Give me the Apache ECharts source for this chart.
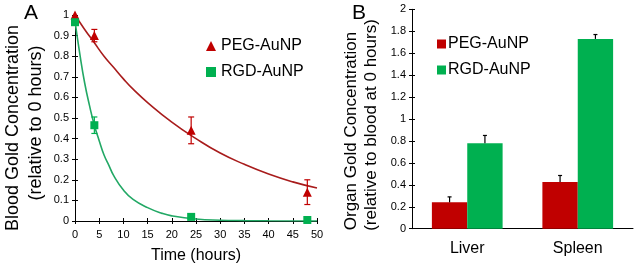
<!DOCTYPE html>
<html><head><meta charset="utf-8">
<script src="https://cdn.jsdelivr.net/npm/echarts@6/dist/echarts.min.js"></script>
<style>html,body{margin:0;padding:0;background:#fff}#c{width:636px;height:269px}</style>
</head><body><div id="c"></div>
<script>
// Panel A: blood concentration over time
const timePts = [0, 4, 24, 48];
const pegVals = [1.0, 0.90, 0.44, 0.14];
const pegErr = [0, 0.03, 0.065, 0.06];
const rgdVals = [0.965, 0.465, 0.02, 0.005];
const rgdErr = [0, 0.04, 0, 0];
// fitted curves
const pegFitT = [0, 2, 4, 6, 8, 10, 12, 15, 20, 25, 30, 35, 40, 45, 50];
const pegFitY = [1.0, 0.93, 0.865, 0.80, 0.745, 0.69, 0.64, 0.575, 0.48, 0.40, 0.33, 0.275, 0.228, 0.19, 0.16];
const rgdFitT = [0, 1, 2, 3, 4, 5, 6, 7, 8, 10, 12, 15, 18, 20, 25, 30, 35, 40, 50];
const rgdFitY = [0.97, 0.81, 0.67, 0.56, 0.465, 0.39, 0.32, 0.27, 0.22, 0.15, 0.105, 0.065, 0.037, 0.025, 0.01, 0.004, 0.002, 0.001, 0.0];
// Panel B: organ concentration
const organs = ['Liver', 'Spleen'];
const pegOrgan = [0.24, 0.425];
const pegOrganErr = [0.05, 0.06];
const rgdOrgan = [0.78, 1.73];
const rgdOrganErr = [0.07, 0.04];

const RED = '#C00000', GREEN = '#00B050', RED_LINE = '#A81C1C', GREEN_LINE = '#22A865';
const FONT = 'Liberation Sans, Arial, sans-serif';
const chart = echarts.init(document.getElementById('c'));

function errA(vals, errs, color) {
  return {
    type: 'custom', xAxisIndex: 0, yAxisIndex: 0, z: 3, silent: true,
    data: timePts.map((t, i) => [t, vals[i], errs[i]]),
    renderItem: (params, api) => {
      const e = api.value(2);
      if (!e) return null;
      const t = api.value(0), v = api.value(1);
      const top = api.coord([t, v + e]), bot = api.coord([t, v - e]);
      const w = 3;
      return { type: 'group', children: [
        { type: 'line', shape: { x1: top[0], y1: top[1], x2: bot[0], y2: bot[1] }, style: { stroke: color, lineWidth: 1.2 } },
        { type: 'line', shape: { x1: top[0] - w, y1: top[1], x2: top[0] + w, y2: top[1] }, style: { stroke: color, lineWidth: 1.2 } },
        { type: 'line', shape: { x1: bot[0] - w, y1: bot[1], x2: bot[0] + w, y2: bot[1] }, style: { stroke: color, lineWidth: 1.2 } }
      ]};
    }
  };
}
function errB(vals, errs, side) {
  return {
    type: 'custom', xAxisIndex: 2, yAxisIndex: 2, z: 5, silent: true,
    data: organs.map((o, i) => [i, vals[i], errs[i]]),
    renderItem: (params, api) => {
      const i = api.value(0), v = api.value(1), e = api.value(2);
      const band = api.size([1, 0])[0];
      const bw = band * 0.32;
      const base = api.coord([i, v]);
      const x = base[0] + side * bw / 2;
      const top = api.coord([i, v + e]);
      return { type: 'group', children: [
        { type: 'line', shape: { x1: x, y1: base[1], x2: x, y2: top[1] }, style: { stroke: '#000', lineWidth: 1.2 } },
        { type: 'line', shape: { x1: x - 2, y1: top[1], x2: x + 2, y2: top[1] }, style: { stroke: '#000', lineWidth: 1.2 } }
      ]};
    }
  };
}

const axisTxt = { color: '#000', fontFamily: FONT, fontSize: 11 };
const blk = { lineStyle: { color: '#000', width: 1 } };
function vtext(x, y, txt, size) {
  return { type: 'text', x: x, y: y, rotation: Math.PI / 2, silent: true,
    style: { text: txt, fill: '#000', font: size + 'px ' + FONT, textAlign: 'center', textVerticalAlign: 'middle' } };
}

chart.setOption({
  animation: false,
  textStyle: { fontFamily: FONT },
  title: [
    { text: 'A', left: 24, top: 3, padding: 0, textStyle: { fontSize: 21, fontWeight: 'normal', color: '#000', fontFamily: FONT } },
    { text: 'B', left: 352, top: 3, padding: 0, textStyle: { fontSize: 21, fontWeight: 'normal', color: '#000', fontFamily: FONT } }
  ],
  graphic: [
    vtext(13, 128, 'Blood Gold Concentration', 18),
    vtext(36, 123, '(relative to 0 hours)', 18),
    vtext(351, 131, 'Organ Gold Concentration', 17),
    vtext(371, 125, '(relative to blood at 0 hours)', 17)
  ],
  grid: [
    { left: 75, width: 242, top: 15, height: 209 },
    { left: 412, width: 221, top: 9.3, height: 219.4 }
  ],
  legend: [
    { orient: 'vertical', left: 201, top: 33, itemGap: 10, itemWidth: 10, itemHeight: 10,
      textStyle: { fontSize: 16, color: '#000', fontFamily: FONT },
      data: [{ name: 'PEG-AuNP', icon: 'triangle' }, { name: 'RGD-AuNP', icon: 'rect' }] },
    { orient: 'vertical', left: 432, top: 31, itemGap: 10, itemWidth: 9, itemHeight: 9,
      textStyle: { fontSize: 16, color: '#000', fontFamily: FONT, padding: [0, 0, 0, -3] },
      data: [{ name: 'PEG-AuNP', icon: 'rect' }, { name: 'RGD-AuNP', icon: 'rect' }] }
  ],
  xAxis: [
    { type: 'value', gridIndex: 0, min: 0, max: 50, interval: 5,
      name: 'Time (hours)', nameLocation: 'middle', nameGap: 27,
      nameTextStyle: { fontSize: 16, color: '#000', fontFamily: FONT },
      axisLine: blk, axisTick: { show: true, length: 3, lineStyle: { color: '#000' } },
      axisLabel: Object.assign({ margin: 8 }, axisTxt), splitLine: { show: false } },
    { type: 'value', gridIndex: 0, position: 'bottom', min: 0, max: 50, interval: 5,
      axisLine: { show: false }, axisTick: { show: true, inside: true, length: 3, lineStyle: { color: '#000' } },
      axisLabel: { show: false }, splitLine: { show: false } },
    { type: 'category', gridIndex: 1, data: organs,
      axisLine: blk, axisTick: { show: false },
      axisLabel: { color: '#000', fontFamily: FONT, fontSize: 16, margin: 12 } }
  ],
  yAxis: [
    { type: 'value', gridIndex: 0, min: 0, max: 1, interval: 0.1,
      axisLine: Object.assign({ show: true }, blk), axisTick: { show: true, length: 3, lineStyle: { color: '#000' } },
      axisLabel: Object.assign({ margin: 6 }, axisTxt), splitLine: { show: false } },
    { type: 'value', gridIndex: 0, position: 'left', min: 0, max: 1, interval: 0.1,
      axisLine: { show: false }, axisTick: { show: true, inside: true, length: 3, lineStyle: { color: '#000' } },
      axisLabel: { show: false }, splitLine: { show: false } },
    { type: 'value', gridIndex: 1, min: 0, max: 2, interval: 0.2,
      axisLine: Object.assign({ show: true }, blk), axisTick: { show: true, length: 3, lineStyle: { color: '#000' } },
      axisLabel: Object.assign({ margin: 6 }, axisTxt), splitLine: { show: false } },
    { type: 'value', gridIndex: 1, position: 'left', min: 0, max: 2, interval: 0.2,
      axisLine: { show: false }, axisTick: { show: true, inside: true, length: 3, lineStyle: { color: '#000' } },
      axisLabel: { show: false }, splitLine: { show: false } }
  ],
  series: [
    { name: 'PEG fit', type: 'line', xAxisIndex: 0, yAxisIndex: 0, smooth: true, symbol: 'none',
      data: pegFitT.map((t, i) => [t, pegFitY[i]]), lineStyle: { color: RED_LINE, width: 1.6 }, z: 2 },
    { name: 'RGD fit', type: 'line', xAxisIndex: 0, yAxisIndex: 0, smooth: true, symbol: 'none',
      data: rgdFitT.map((t, i) => [t, rgdFitY[i]]), lineStyle: { color: GREEN_LINE, width: 1.6 }, z: 2 },
    errA(pegVals, pegErr, RED),
    errA(rgdVals, rgdErr, GREEN),
    { name: 'PEG-AuNP', type: 'scatter', xAxisIndex: 0, yAxisIndex: 0, symbol: 'triangle', symbolSize: 9,
      data: timePts.map((t, i) => [t, pegVals[i]]), itemStyle: { color: RED, opacity: 1 }, z: 4 },
    { name: 'RGD-AuNP', type: 'scatter', xAxisIndex: 0, yAxisIndex: 0, symbol: 'rect', symbolSize: 8,
      data: timePts.map((t, i) => [t, rgdVals[i]]), itemStyle: { color: GREEN, opacity: 1 }, z: 4 },
    { name: 'PEG-AuNP', type: 'bar', xAxisIndex: 2, yAxisIndex: 2, data: pegOrgan, barWidth: '32%', barGap: '0%',
      itemStyle: { color: RED } },
    { name: 'RGD-AuNP', type: 'bar', xAxisIndex: 2, yAxisIndex: 2, data: rgdOrgan, barWidth: '32%', barGap: '0%',
      itemStyle: { color: GREEN } },
    errB(pegOrgan, pegOrganErr, -1),
    errB(rgdOrgan, rgdOrganErr, 1)
  ]
});
</script></body></html>
